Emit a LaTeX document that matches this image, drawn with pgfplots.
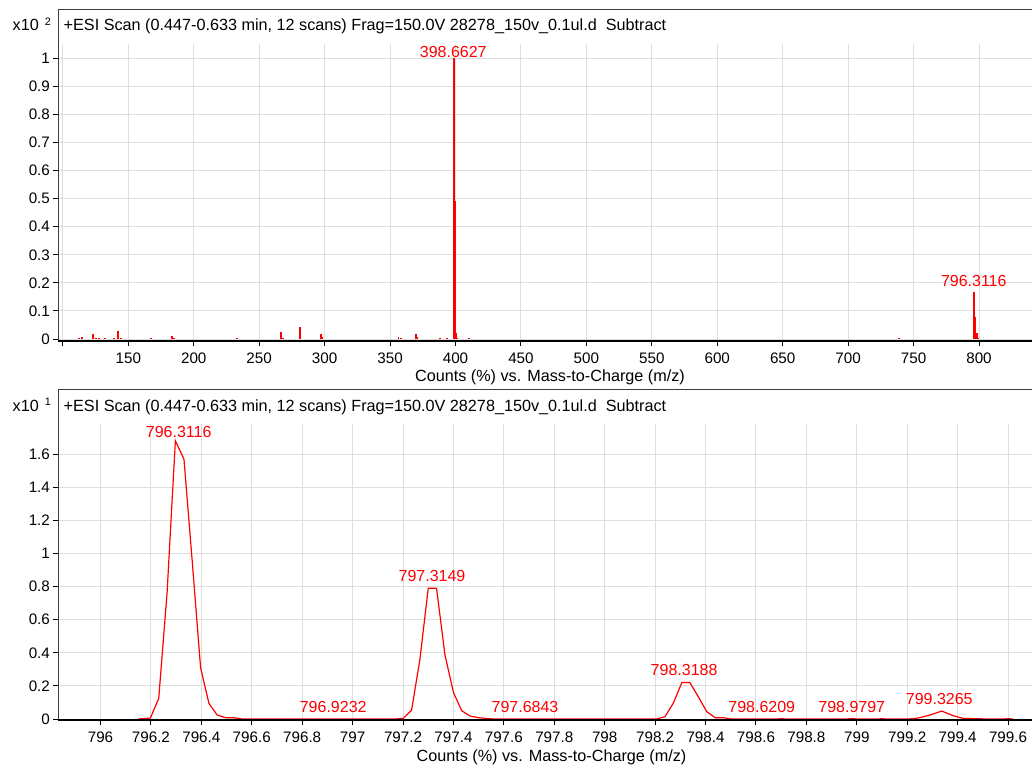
\documentclass[border=0pt]{standalone}
\usepackage{fontspec}
\setmainfont{Liberation Sans}
\usepackage{pgfplots}
\pgfplotsset{compat=1.18}

\definecolor{gridgray}{RGB}{222,222,222}
\definecolor{framegray}{RGB}{60,60,60}

\pgfplotsset{
  msaxis/.style={
    scale only axis,
    width=486.85pt,
    anchor=south west,
    axis line style={draw=none},
    tick align=outside,
    major tick length=2.5pt,
    xtick pos=bottom, ytick pos=left,
    tick style={black, line width=0.5pt},
    grid=major,
    grid style={gridgray, line width=0.5pt},
    ticklabel style={font=\fontsize{7.6}{9}\selectfont, inner sep=1.5pt},
    xticklabel style={yshift=-1.6pt},
    /pgf/number format/assume math mode=true,
    clip=false,
  },
}
\tikzset{peaklbl/.style={red, font=\fontsize{8}{9}\selectfont, inner sep=0pt}}

\begin{document}
\begin{tikzpicture}
\useasboundingbox (0pt,0pt) rectangle (516pt,-383pt);

% ---------- upper panel: full scan ----------
\begin{axis}[msaxis,
  at={(29.15pt,-170.5pt)},
  height=165.85pt,
  xmin=96.52, xmax=840.5,
  ymin=-0.0071, ymax=1.1746,
  xtick={100,150,...,800},
  xticklabels={,150,200,250,300,350,400,450,500,550,600,650,700,750,800},
  ytick={0,0.1,...,1.0},
]
\fill[white] (rel axis cs:0,0.8946) rectangle (rel axis cs:1,1);
\addplot[ycomb, red, line width=1.1pt] coordinates {
  (398.66,1.0) (399.66,0.49)
};
\addplot[ycomb, red, line width=0.9pt] coordinates {
  (112.3,0.003) (114.4,0.008) (123.3,0.018) (125.3,0.004) (127.4,0.003)
  (132.2,0.003) (139.1,0.003) (141.9,0.027) (144.2,0.004) (167.1,0.003)
  (183.4,0.009) (185.1,0.003) (232.8,0.003) (266.4,0.026) (268.0,0.003)
  (281.0,0.043) (297.2,0.018) (298.2,0.006) (356.4,0.008) (358.4,0.003)
  (369.9,0.018) (370.9,0.007) (388.2,0.003) (393.3,0.003) (400.66,0.02)
  (401.6,0.004) (410.3,0.004) (738.7,0.004)
  (796.31,0.168) (797.31,0.079) (798.32,0.022) (799.33,0.005)
};
\node[peaklbl] at (axis cs:398.3,1.021) {398.6627};
\node[peaklbl] at (axis cs:796.0,0.207) {796.3116};
\draw[framegray, line width=0.6pt] (rel axis cs:1,1) -- (rel axis cs:0,1) -- (rel axis cs:0,0);
\draw[black, line width=0.9pt] (rel axis cs:0,0) -- (rel axis cs:1,0);
\end{axis}

% ---------- lower panel: zoom on 796-800 ----------
\begin{axis}[msaxis,
  at={(29.15pt,-360pt)},
  height=165.35pt,
  xmin=795.8326, xmax=799.695,
  ymin=-0.006, ymax=1.991,
  xtick={796,796.2,796.4,796.6,796.8,797,797.2,797.4,797.6,797.8,798,798.2,798.4,798.6,798.8,799,799.2,799.4,799.6},
  xticklabels={796,796.2,796.4,796.6,796.8,797,797.2,797.4,797.6,797.8,798,798.2,798.4,798.6,798.8,799,799.2,799.4,799.6},
  ytick={0,0.2,...,1.6},
]
\fill[white] (rel axis cs:0,0.8944) rectangle (rel axis cs:1,1);
\addplot[red, line width=0.6pt] coordinates {
  (796.150,0) (796.198,0.006) (796.231,0.125) (796.264,0.76) (796.297,1.68)
  (796.331,1.57) (796.364,0.95) (796.397,0.31) (796.430,0.095) (796.463,0.024)
  (796.496,0.008) (796.529,0.008) (796.562,0) (797.170,0)
  (797.201,0.004) (797.234,0.054) (797.267,0.36) (797.300,0.79) (797.333,0.79)
  (797.366,0.39) (797.400,0.16) (797.433,0.05) (797.466,0.018) (797.500,0.008)
  (797.533,0.003) (797.566,0) (798.206,0)
  (798.239,0.014) (798.272,0.095) (798.306,0.22) (798.338,0.22) (798.371,0.135)
  (798.405,0.044) (798.438,0.008) (798.470,0.008) (798.503,0)
  (798.680,0) (798.700,0.002) (798.720,0) (798.960,0) (798.980,0.003) (799.000,0)
  (799.080,0) (799.100,0.002) (799.120,0) (799.204,0)
  (799.244,0.006) (799.290,0.024) (799.337,0.048) (799.383,0.02) (799.422,0.004)
  (799.475,0.002) (799.520,0) (799.580,0) (799.600,0.002) (799.620,0)
};
\node[peaklbl] at (axis cs:796.310,1.731) {796.3116};
\node[peaklbl] at (axis cs:797.315,0.864) {797.3149};
\node[peaklbl] at (axis cs:796.923,0.071) {796.9232};
\node[peaklbl] at (axis cs:797.684,0.074) {797.6843};
\node[peaklbl] at (axis cs:798.315,0.296) {798.3188};
\node[peaklbl] at (axis cs:798.623,0.071) {798.6209};
\node[peaklbl] at (axis cs:798.980,0.072) {798.9797};
\node[peaklbl] at (axis cs:799.327,0.121) {799.3265};
\draw[framegray, line width=0.6pt] (rel axis cs:1,1) -- (rel axis cs:0,1) -- (rel axis cs:0,0);
\draw[black, line width=0.9pt] (rel axis cs:0,0) -- (rel axis cs:1,0);
\end{axis}

% ---------- texts outside the axes ----------
\begin{scope}[font=\fontsize{8.1}{9}\selectfont, inner sep=0pt]
\node[anchor=base west] at (31.65pt,-15.35pt) {+ESI Scan (0.447-0.633 min, 12 scans) Frag=150.0V 28278\_150v\_0.1ul.d\ \ Subtract};
\node[anchor=base west] at (31.65pt,-205.6pt) {+ESI Scan (0.447-0.633 min, 12 scans) Frag=150.0V 28278\_150v\_0.1ul.d\ \ Subtract};
\node[anchor=base west] at (6.15pt,-15.35pt) {x10\hspace{3pt}\raisebox{2.7pt}{\fontsize{5.4}{6}\selectfont 2}};
\node[anchor=base west] at (6.15pt,-205.6pt) {x10\hspace{3pt}\raisebox{2.7pt}{\fontsize{5.4}{6}\selectfont 1}};
\end{scope}
\begin{scope}[font=\fontsize{8.1}{10}\selectfont, inner sep=0pt]
\node at (275pt,-188.7pt) {Counts (\%) vs. Mass-to-Charge (m/z)};
\node at (275.75pt,-378.7pt) {Counts (\%) vs. Mass-to-Charge (m/z)};
\end{scope}
\end{tikzpicture}
\end{document}
